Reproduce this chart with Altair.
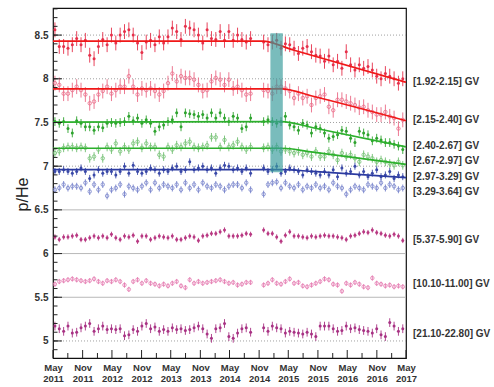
import altair as alt
import pandas as pd

# ---------------- data ----------------
# Bartels rotations (27-day periods); two rotations are missing
rotation_start = "2011-05-13"
rotation_days = 27
n_rotations = 81
missing_rotations = [46, 47]

bin_labels = ["[1.92-2.15] GV", "[2.15-2.40] GV", "[2.40-2.67] GV", "[2.67-2.97] GV",
              "[2.97-3.29] GV", "[3.29-3.64] GV", "[5.37-5.90] GV", "[10.10-11.00] GV",
              "[21.10-22.80] GV"]
label_y = [7.96, 7.53, 7.23, 7.06, 6.88, 6.71, 6.15, 5.65, 5.08]

s1 = [8.56, 8.37, 8.37, 8.35, 8.39, 8.46, 8.39, 8.44, 8.27, 8.23, 8.37, 8.45, 8.39, 8.50, 8.41, 8.50, 8.54, 8.56, 8.50, 8.41, 8.30,
      8.42, 8.44, 8.39, 8.48, 8.41, 8.48, 8.58, 8.54, 8.45, 8.60, 8.58, 8.56, 8.50, 8.41, 8.56, 8.46, 8.45, 8.54, 8.44, 8.54, 8.44,
      8.50, 8.45, 8.42, 8.46,
      8.42, 8.39, 8.42, 8.44, 8.35, 8.40, 8.39, 8.35, 8.29, 8.35, 8.37, 8.31, 8.27, 8.26,
      8.20, 8.26, 8.16, 8.20, 8.12, 8.31, 8.16, 8.10, 8.16, 8.12, 8.14, 8.10, 8.03, 8.00, 8.06, 8.03, 8.00, 7.95, 8.00]
s2 = [7.95, 7.93, 7.83, 7.83, 7.87, 7.91, 7.87, 7.82, 7.72, 7.74, 7.82, 7.86, 7.91, 7.83, 7.87, 7.91, 7.91, 8.03, 7.91, 7.82, 7.89,
      7.87, 7.89, 7.86, 7.82, 7.86, 7.95, 8.06, 7.97, 8.03, 8.01, 8.01, 7.99, 7.93, 7.86, 7.87, 7.97, 8.01, 7.99, 7.93, 7.99, 7.89,
      7.91, 7.87, 7.82, 7.83,
      7.87, 7.86, 7.83, 7.91, 7.91, 7.89, 7.86, 7.78, 7.83, 7.78, 7.80, 7.70, 7.78, 7.80,
      7.82, 7.68, 7.64, 7.76, 7.76, 7.74, 7.72, 7.70, 7.67, 7.68, 7.64, 7.62, 7.59, 7.59, 7.62, 7.57, 7.55, 7.43, 7.53]
s3 = [7.51, 7.49, 7.51, 7.43, 7.38, 7.52, 7.49, 7.45, 7.45, 7.41, 7.45, 7.44, 7.49, 7.50, 7.49, 7.50, 7.51, 7.57, 7.52, 7.55, 7.49,
      7.53, 7.49, 7.40, 7.45, 7.47, 7.51, 7.53, 7.61, 7.45, 7.61, 7.60, 7.59, 7.57, 7.59, 7.55, 7.61, 7.55, 7.61, 7.55, 7.51, 7.57,
      7.55, 7.43, 7.45, 7.55,
      7.51, 7.53, 7.51, 7.49, 7.51, 7.57, 7.47, 7.45, 7.41, 7.49, 7.47, 7.38, 7.45, 7.43,
      7.38, 7.32, 7.34, 7.36, 7.41, 7.40, 7.32, 7.27, 7.40, 7.38, 7.36, 7.29, 7.32, 7.30, 7.27, 7.27, 7.25, 7.23, 7.19]
s4 = [7.15, 7.17, 7.21, 7.22, 7.22, 7.21, 7.22, 7.21, 7.09, 7.11, 7.19, 7.09, 7.22, 7.19, 7.26, 7.17, 7.22, 7.19, 7.26, 7.28, 7.21,
      7.26, 7.22, 7.22, 7.13, 7.11, 7.22, 7.19, 7.24, 7.22, 7.26, 7.28, 7.22, 7.21, 7.22, 7.24, 7.33, 7.33, 7.22, 7.30, 7.22, 7.24,
      7.28, 7.22, 7.19, 7.22,
      7.21, 7.22, 7.19, 7.22, 7.17, 7.19, 7.17, 7.15, 7.17, 7.13, 7.15, 7.11, 7.17, 7.11,
      7.11, 7.17, 7.13, 7.07, 7.15, 7.11, 7.13, 7.09, 7.05, 7.13, 7.11, 7.09, 7.05, 7.07, 7.05, 7.03, 7.01, 7.05, 7.01]
s5 = [6.94, 6.94, 6.96, 6.94, 6.92, 6.94, 6.98, 6.94, 6.86, 6.90, 6.96, 6.92, 6.94, 6.94, 6.90, 6.94, 7.00, 6.92, 7.01, 6.94, 6.92,
      6.94, 6.98, 6.96, 6.92, 6.96, 6.94, 6.98, 7.00, 6.94, 6.96, 7.05, 6.96, 6.98, 7.00, 6.96, 6.98, 6.92, 6.98, 7.01, 7.00, 6.96,
      6.98, 6.94, 6.98, 6.92,
      6.98, 6.94, 6.96, 7.00, 6.92, 6.94, 6.98, 6.96, 6.94, 6.90, 6.96, 6.94, 6.92, 6.90,
      6.94, 6.90, 6.96, 6.88, 6.98, 6.92, 6.94, 7.00, 6.90, 6.94, 6.88, 6.92, 6.96, 6.88, 6.90, 6.94, 6.86, 6.90, 6.88]
s6 = [6.73, 6.75, 6.79, 6.75, 6.77, 6.77, 6.75, 6.81, 6.71, 6.79, 6.73, 6.79, 6.66, 6.73, 6.75, 6.79, 6.68, 6.77, 6.75, 6.73, 6.77,
      6.81, 6.73, 6.81, 6.75, 6.79, 6.77, 6.75, 6.79, 6.73, 6.81, 6.75, 6.79, 6.73, 6.81, 6.77, 6.75, 6.79, 6.77, 6.73, 6.77, 6.79,
      6.79, 6.75, 6.81, 6.73,
      6.68, 6.79, 6.81, 6.82, 6.75, 6.81, 6.77, 6.75, 6.79, 6.73, 6.77, 6.75, 6.79, 6.75,
      6.77, 6.73, 6.81, 6.77, 6.75, 6.68, 6.73, 6.77, 6.75, 6.73, 6.79, 6.77, 6.75, 6.81, 6.75, 6.79, 6.77, 6.73, 6.75]
s7 = [6.19, 6.16, 6.19, 6.19, 6.20, 6.21, 6.16, 6.16, 6.18, 6.20, 6.18, 6.20, 6.18, 6.22, 6.18, 6.16, 6.20, 6.19, 6.21, 6.14, 6.20,
      6.20, 6.16, 6.18, 6.20, 6.19, 6.18, 6.20, 6.16, 6.16, 6.18, 6.20, 6.19, 6.15, 6.20, 6.21, 6.23, 6.23, 6.25, 6.27, 6.20, 6.20,
      6.20, 6.21, 6.23, 6.22,
      6.27, 6.23, 6.23, 6.19, 6.14, 6.21, 6.25, 6.20, 6.20, 6.19, 6.18, 6.20, 6.19, 6.20,
      6.21, 6.20, 6.20, 6.19, 6.18, 6.16, 6.20, 6.21, 6.23, 6.25, 6.24, 6.27, 6.24, 6.23, 6.21, 6.20, 6.22, 6.20, 6.15]
s8 = [5.65, 5.68, 5.69, 5.70, 5.71, 5.70, 5.69, 5.68, 5.69, 5.71, 5.68, 5.66, 5.69, 5.68, 5.70, 5.68, 5.64, 5.59, 5.68, 5.70, 5.66,
      5.69, 5.66, 5.65, 5.63, 5.65, 5.63, 5.66, 5.68, 5.63, 5.61, 5.70, 5.66, 5.68, 5.66, 5.67, 5.68, 5.69, 5.70, 5.68, 5.66, 5.67,
      5.64, 5.65, 5.67, 5.67,
      5.64, 5.66, 5.70, 5.66, 5.65, 5.68, 5.71, 5.66, 5.67, 5.63, 5.62, 5.64, 5.66, 5.68,
      5.71, 5.70, 5.65, 5.64, 5.57, 5.66, 5.64, 5.67, 5.65, 5.62, 5.61, 5.72, 5.66, 5.65, 5.63, 5.64, 5.62, 5.63, 5.62]
s9 = [5.17, 5.14, 5.11, 5.17, 5.09, 5.10, 5.15, 5.17, 5.20, 5.11, 5.14, 5.17, 5.13, 5.14, 5.13, 5.14, 5.06, 5.07, 5.13, 5.11, 5.17,
      5.20, 5.14, 5.16, 5.11, 5.13, 5.11, 5.15, 5.13, 5.14, 5.12, 5.13, 5.15, 5.17, 5.14, 5.08, 5.03, 5.14, 5.15, 5.20, 5.05, 5.03,
      5.09, 5.14, 5.15, 5.10,
      5.15, 5.11, 5.17, 5.15, 5.14, 5.09, 5.11, 5.10, 5.09, 5.08, 5.10, 5.08, 5.05, 5.17,
      5.17, 5.17, 5.14, 5.11, 5.12, 5.17, 5.14, 5.15, 5.13, 5.12, 5.11, 5.09, 5.14, 5.07, 5.05, 5.21, 5.17, 5.11, 5.14]

series_values = [s1, s2, s3, s4, s5, s6, s7, s8, s9]
errors = [0.085, 0.085, 0.05, 0.05, 0.04, 0.04, 0.03, 0.03, 0.05]
filled = [True, False, True, False, True, False, True, False, True]
point_colors = ["#e6304a", "#ea6a86", "#2ea32e", "#72c072", "#3a49a8", "#7884cc",
                "#b83882", "#e47ab0", "#a83284"]

# fitted curves (only for the five lowest rigidity bins)
fit_dates = [["2011-05-01", "2014-11-20", "2015-06-01", "2017-05-01"],
             ["2011-05-01", "2015-03-20", "2015-10-01", "2017-05-01"],
             ["2011-05-01", "2015-03-20", "2015-10-01", "2017-05-01"],
             ["2011-05-01", "2015-03-20", "2015-10-01", "2017-05-01"],
             ["2011-05-01", "2015-03-20", "2015-10-01", "2017-05-01"]]
fit_values = [[8.43, 8.43, 8.33, 7.96],
              [7.885, 7.885, 7.80, 7.52],
              [7.505, 7.51, 7.44, 7.22],
              [7.205, 7.205, 7.16, 7.02],
              [6.96, 6.96, 6.94, 6.87]]
fit_colors = ["#f01818", "#f01818", "#2cb02c", "#2cb02c", "#2b3aa0"]

band_start, band_end = "2015-01-10", "2015-03-28"
band_low, band_high = 6.93, 8.52

major_dates = ["2011-05-01", "2011-11-01", "2012-05-01", "2012-11-01", "2013-05-01",
               "2013-11-01", "2014-05-01", "2014-11-01", "2015-05-01", "2015-11-01",
               "2016-05-01", "2016-11-01", "2017-05-01"]
minor_dates = ["2011-08-01", "2012-02-01", "2012-08-01", "2013-02-01", "2013-08-01",
               "2014-02-01", "2014-08-01", "2015-02-01", "2015-08-01", "2016-02-01",
               "2016-08-01", "2017-02-01"]
y_major = [5.0, 5.5, 6.0, 6.5, 7.0, 7.5, 8.0, 8.5]
y_minor = [round(4.9 + 0.1 * k, 1) for k in range(40)]
y_dotted = [5.0, 7.0, 7.5, 8.0, 8.5]
y_solid = [5.5, 6.0, 6.5]

# ---------------- chart ----------------
W, H = 353, 350
FONT = "Liberation Sans"

for s in series_values:
    assert len(s) == n_rotations - len(missing_rotations), len(s)

all_dates = pd.date_range(rotation_start, periods=n_rotations, freq=f"{rotation_days}D")
dates = [d.strftime("%Y-%m-%d") for i, d in enumerate(all_dates) if i not in missing_rotations]


def ms(d):
    return int(pd.Timestamp(d, tz="UTC").timestamp() * 1000)


xscale = alt.Scale(type="utc", domain=[ms("2011-05-01"), ms("2017-05-01")])
yscale = alt.Scale(domain=[4.805, 8.81], nice=False, zero=False)

xaxis = alt.Axis(values=[ms(d) for d in major_dates],
                 labelExpr="[utcFormat(datum.value, '%b'), utcFormat(datum.value, '%Y')]",
                 ticks=False, domain=False, grid=False, title=None,
                 labelFont=FONT, labelFontSize=9.5, labelFontWeight="bold", labelColor="#333",
                 labelPadding=4, labelLineHeight=11, labelFlush=False, labelOverlap=False)
yaxis = alt.Axis(values=y_major, labelExpr="'' + datum.value",
                 ticks=False, domain=False, grid=False,
                 labelFont=FONT, labelFontSize=10, labelFontWeight="bold", labelColor="#333",
                 labelPadding=5,
                 title="p/He", titleFont=FONT, titleFontSize=16, titleFontWeight="normal",
                 titleColor="#222", titleAngle=270, titleX=-31, titleY=186,
                 titleAlign="center", titleBaseline="middle")


def X(field):
    return alt.X(field, type="temporal", scale=xscale, axis=xaxis)


def Y(field):
    return alt.Y(field, type="quantitative", scale=yscale, axis=yaxis)


layers = []

layers.append(alt.Chart(pd.DataFrame({"g": y_dotted})).mark_rule(
    color="#a0a0a0", strokeWidth=1, strokeDash=[1, 2]).encode(y=Y("g")))
layers.append(alt.Chart(pd.DataFrame({"g": y_solid})).mark_rule(
    color="#b8b8b8", strokeWidth=1).encode(y=Y("g")))

for vals, err, fil, col in zip(series_values, errors, filled, point_colors):
    df = pd.DataFrame({"date": dates, "v": vals})
    df["lo"] = df["v"] - err
    df["hi"] = df["v"] + err
    layers.append(alt.Chart(df).mark_rule(color=col, strokeWidth=1, opacity=0.9).encode(
        x=X("date"), y=Y("lo"), y2="hi"))
    if fil:
        pts = alt.Chart(df).mark_point(shape="circle", filled=True, size=9, color=col, opacity=1)
    else:
        pts = alt.Chart(df).mark_point(shape="circle", filled=False, size=12, color=col,
                                       opacity=1, strokeWidth=0.8)
    layers.append(pts.encode(x=X("date"), y=Y("v")))

for fd, fv, fc in zip(fit_dates, fit_values, fit_colors):
    layers.append(alt.Chart(pd.DataFrame({"date": fd, "v": fv})).mark_line(
        color=fc, strokeWidth=1.7, interpolate="monotone").encode(x=X("date"), y=Y("v")))

layers.append(alt.Chart(pd.DataFrame({"a": [band_start], "b": [band_end],
                                      "lo": [band_low], "hi": [band_high]})).mark_rect(
    color="#3a9c9c", opacity=0.68).encode(x=X("a"), x2="b", y=Y("lo"), y2="hi"))

# inward ticks
layers.append(alt.Chart(pd.DataFrame({"t": y_major})).mark_rule(color="#222", strokeWidth=1).encode(
    y=Y("t"), x=alt.value(0), x2=alt.value(9)))
layers.append(alt.Chart(pd.DataFrame({"t": y_minor})).mark_rule(color="#222", strokeWidth=1).encode(
    y=Y("t"), x=alt.value(0), x2=alt.value(4.5)))
layers.append(alt.Chart(pd.DataFrame({"t": major_dates})).mark_rule(color="#222", strokeWidth=1).encode(
    x=X("t"), y=alt.value(H), y2=alt.value(H - 8)))
layers.append(alt.Chart(pd.DataFrame({"t": minor_dates})).mark_rule(color="#222", strokeWidth=1).encode(
    x=X("t"), y=alt.value(H), y2=alt.value(H - 5)))

layers.append(alt.Chart(pd.DataFrame({"label": bin_labels, "ly": label_y})).mark_text(
    align="left", baseline="middle", font=FONT, fontSize=10, fontWeight="bold", color="#333").encode(
    y=Y("ly"), text="label:N", x=alt.value(W + 7)))

chart = alt.layer(*layers).properties(
    width=W, height=H,
    padding={"left": 53, "top": 8, "right": 88, "bottom": 29},
    autosize=alt.AutoSizeParams(type="none"),
    background="white",
).configure(font=FONT).configure_view(stroke="#111", strokeWidth=1.2)

chart.save("out.html", embed_options={"renderer": "svg", "actions": False})
